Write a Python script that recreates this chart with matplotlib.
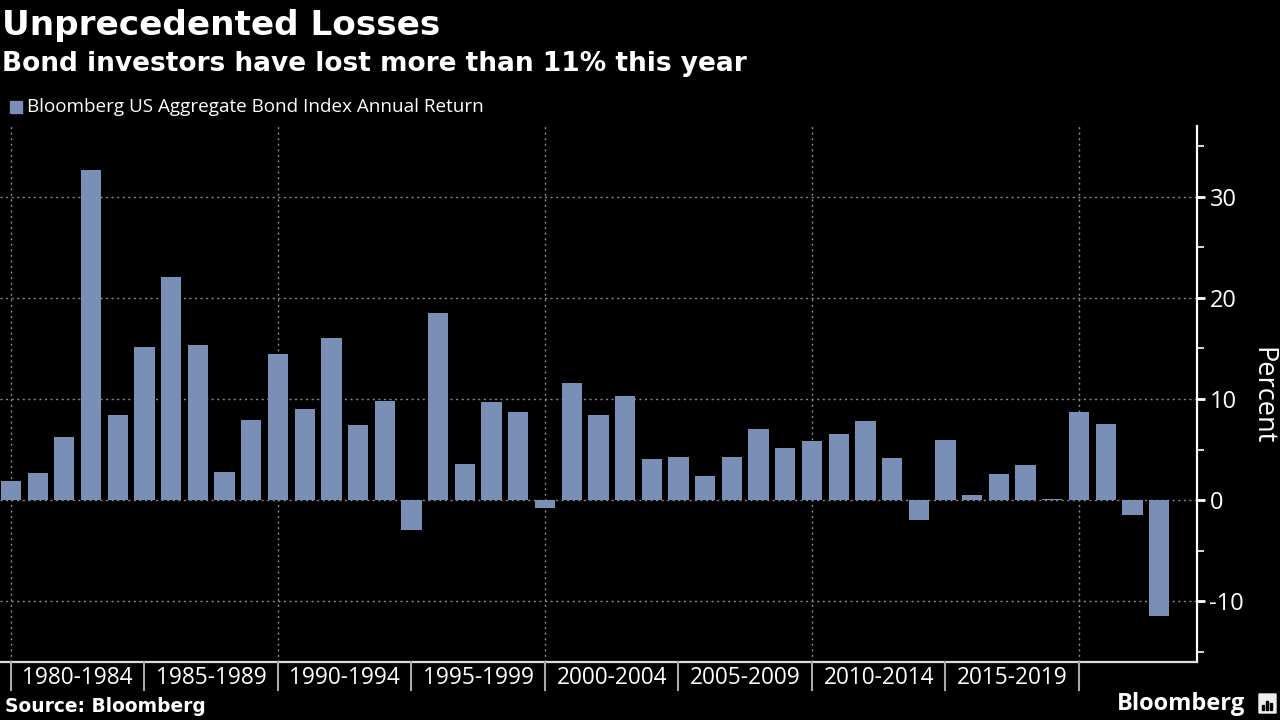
import matplotlib
matplotlib.use("Agg")
import matplotlib.pyplot as plt
import matplotlib.transforms as mtransforms
from matplotlib.patches import FancyBboxPatch, Rectangle

# ---- data ----
years = list(range(1979, 2023))
returns = [1.9, 2.7, 6.2, 32.6, 8.4, 15.1, 22.1, 15.3, 2.8, 7.9,
           14.5, 9.0, 16.0, 7.4, 9.8, -2.9, 18.5, 3.6, 9.7, 8.7,
           -0.8, 11.6, 8.4, 10.3, 4.1, 4.3, 2.4, 4.3, 7.0, 5.2,
           5.9, 6.5, 7.8, 4.2, -2.0, 6.0, 0.5, 2.6, 3.5, 0.1,
           8.7, 7.5, -1.5, -11.5]
period_labels = ["1980-1984", "1985-1989", "1990-1994", "1995-1999",
                 "2000-2004", "2005-2009", "2010-2014", "2015-2019"]
period_starts = [1980, 1985, 1990, 1995, 2000, 2005, 2010, 2015]
y_ticks = [-10, 0, 10, 20, 30]
y_minor = [-15, -5, 5, 15, 25, 35]

title = "Unprecedented Losses"
subtitle = "Bond investors have lost more than 11% this year"
legend_label = "Bloomberg US Aggregate Bond Index Annual Return"
source = "Source: Bloomberg"

BG = "#000000"
BAR = "#7a8fb5"
GRID = "#8a8a8a"
FONT = "Open Sans"
BOLD = "DejaVu Sans"

plt.rcParams['font.family'] = [FONT, 'DejaVu Sans']

fig = plt.figure(figsize=(12.8, 7.2), dpi=100, facecolor=BG)
ax = fig.add_axes([0.0, 1 - 662 / 720, 1197 / 1280, (662 - 126) / 720])
ax.set_facecolor(BG)

# bars positioned at year-end dates
xpos = [y + 1 for y in years]
ax.bar(xpos, returns, width=0.76, color=BAR, zorder=3, linewidth=0)

ax.set_xlim(1979.59, 2024.42)
ax.set_ylim(-16, 37)

# grid
for yv in y_ticks:
    ax.axhline(yv, color=GRID, lw=1, ls=(0, (1.5, 2.5)), zorder=1)
for xv in [1980, 1990, 2000, 2010, 2020]:
    ax.axvline(xv, color=GRID, lw=1, ls=(0, (1.5, 2.5)), zorder=1)

# spines
for s in ["left", "top"]:
    ax.spines[s].set_visible(False)
ax.spines["right"].set_color("white")
ax.spines["right"].set_linewidth(1.6)
ax.spines["bottom"].set_color("#dddddd")
ax.spines["bottom"].set_linewidth(1.6)

ax.yaxis.tick_right()
ax.yaxis.set_label_position("right")
ax.set_yticks(y_ticks)
ax.set_yticks(y_minor, minor=True)
ax.set_yticklabels([str(v) for v in y_ticks])
ax.tick_params(axis="y", which="major", colors="white", labelsize=17,
               length=6, width=2, pad=3, direction="out")
ax.tick_params(axis="y", which="minor", colors="white", length=5, width=1.2,
               direction="out")
ax.set_xticks([])
ax.set_ylabel("Percent", color="white", fontsize=19.5, rotation=270,
              labelpad=22)
ax.yaxis.set_label_coords(1.066, 0.496)

# period labels with separators
trans = mtransforms.blended_transform_factory(ax.transData, ax.transAxes)
for st, lab in zip(period_starts, period_labels):
    ax.text(st + 2.5, -0.03, lab, transform=trans, ha="center", va="center",
            color="white", fontsize=16.3, clip_on=False)
for st in period_starts + [2020]:
    ax.plot([st, st], [0, -28 / 536], transform=trans, color="#aaaaaa",
            lw=1.5, clip_on=False, zorder=5)

# titles
fig.text(2 / 1280, 1 - 26 / 720, title, color="white", fontsize=24.7,
         fontweight="bold", va="center", ha="left", family=BOLD)
fig.text(2 / 1280, 1 - 64 / 720, subtitle, color="white", fontsize=19,
         fontweight="bold", va="center", ha="left", family=BOLD)

# legend
fig.patches.append(Rectangle((10 / 1280, 1 - 113 / 720), 12 / 1280, 12 / 720,
                             transform=fig.transFigure, color=BAR,
                             figure=fig))
fig.text(27 / 1280, 1 - 107 / 720, legend_label, color="white", fontsize=13.6,
         va="center", ha="left")

# footer
fig.text(5 / 1280, 1 - 706 / 720, source, color="white", fontsize=13.4,
         fontweight="bold", va="center", ha="left", family=BOLD)
fig.text(1245 / 1280, 1 - 704 / 720, "Bloomberg", color="white", fontsize=17,
         fontweight="bold", va="center", ha="right")
fig.patches.append(FancyBboxPatch((1259 / 1280, 1 - 713 / 720), 17 / 1280,
                                  19 / 720, boxstyle="round,pad=0.0",
                                  transform=fig.transFigure, color="#eeeeee",
                                  figure=fig))
for i, h in enumerate([5, 9, 7]):
    fig.patches.append(Rectangle(((1262 + i * 4) / 1280, 1 - 710 / 720),
                                 2 / 1280, h / 720, transform=fig.transFigure,
                                 color=BG, figure=fig))

fig.savefig("out.png", dpi=100, facecolor=BG)
